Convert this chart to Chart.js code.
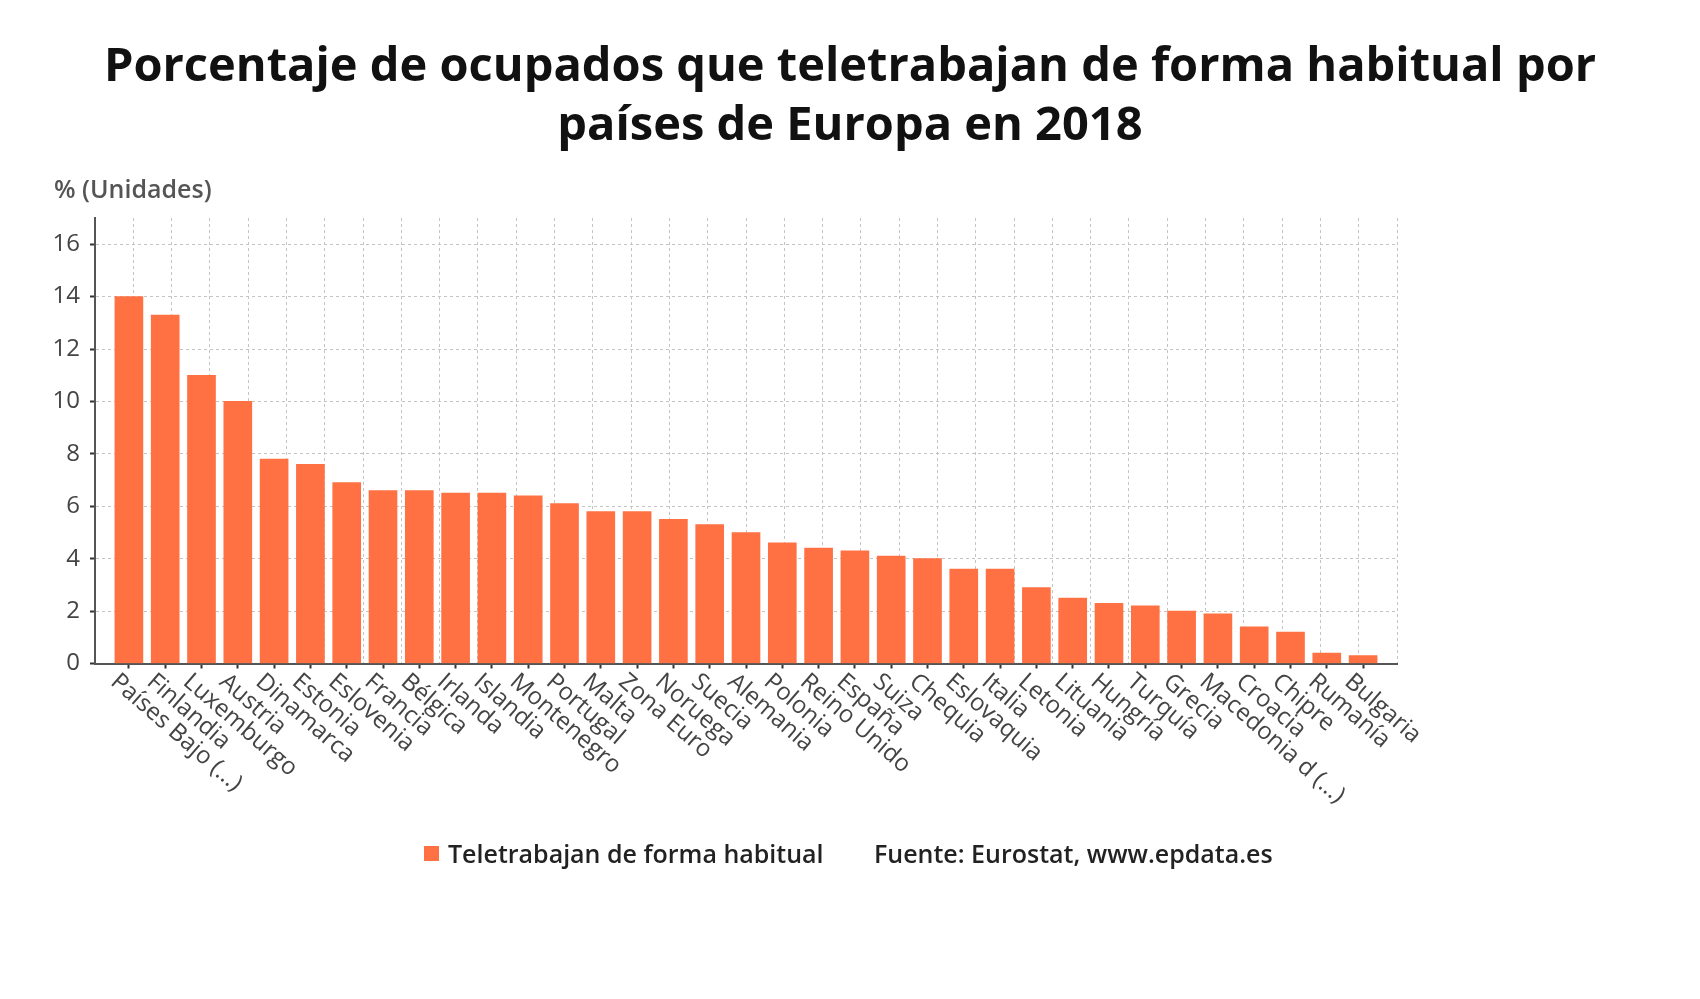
<!DOCTYPE html>
<html><head><meta charset="utf-8">
<script src="https://cdn.jsdelivr.net/npm/chart.js@4.4.1/dist/chart.umd.min.js"></script>
<style>
html,body{margin:0;padding:0;background:#fff;width:1700px;height:999px;overflow:hidden;font-family:"Open Sans",sans-serif}
#wrap{position:relative;width:1700px;height:999px}
canvas{position:absolute;left:0;top:0}
#title{position:absolute;left:0;top:34px;width:1700px;text-align:center;font-weight:700;font-size:47px;line-height:58.6px;color:#111}
#unit{position:absolute;left:54px;top:173px;font-size:25px;font-weight:600;color:#555;line-height:30px}
.lg{position:absolute;top:838px;font-size:25px;font-weight:600;color:#222;line-height:30px;white-space:nowrap}
#sq{position:absolute;left:424px;top:846px;width:15px;height:15px;background:#ff7043}
</style></head>
<body><div id="wrap">
<canvas id="c" width="1700" height="999"></canvas>
<div id="title">Porcentaje de ocupados que teletrabajan de forma habitual por<br>países de Europa en 2018</div>
<div id="unit">% (Unidades)</div>
<div id="sq"></div>
<div class="lg" id="lgText" style="left:448px"></div>
<div class="lg" id="src" style="left:874px">Fuente: Eurostat, www.epdata.es</div>
</div>
<script>
const seriesLabel = "Teletrabajan de forma habitual";
const categories = ["Países Bajo (...)","Finlandia","Luxemburgo","Austria","Dinamarca","Estonia","Eslovenia","Francia","Bélgica","Irlanda","Islandia","Montenegro","Portugal","Malta","Zona Euro","Noruega","Suecia","Alemania","Polonia","Reino Unido","España","Suiza","Chequia","Eslovaquia","Italia","Letonia","Lituania","Hungría","Turquía","Grecia","Macedonia d (...)","Croacia","Chipre","Rumanía","Bulgaria"];
const values = [14.0,13.3,11.0,10.0,7.8,7.6,6.9,6.6,6.6,6.5,6.5,6.4,6.1,5.8,5.8,5.5,5.3,5.0,4.6,4.4,4.3,4.1,4.0,3.6,3.6,2.9,2.5,2.3,2.2,2.0,1.9,1.4,1.2,0.4,0.3];
const yMin = 0, yMax = 17, yStep = 2;

document.getElementById('lgText').textContent = seriesLabel;

const xLabelPlugin = {
  id: 'xlabels',
  afterDraw(chart) {
    const {ctx, scales: {x, y}} = chart;
    ctx.save();
    ctx.font = '24px "Open Sans"';
    ctx.fillStyle = '#444';
    ctx.textAlign = 'left';
    ctx.textBaseline = 'middle';
    const py = y.getPixelForValue(0);
    const ang = 41 * Math.PI / 180;
    categories.forEach((c, i) => {
      const px = x.getPixelForValue(i);
      ctx.save();
      ctx.translate(px - 15, py + 15);
      ctx.rotate(ang);
      ctx.fillText(c, 0, 0);
      ctx.restore();
    });
    ctx.restore();
  }
};

new Chart(document.getElementById('c'), {
  type: 'bar',
  data: {
    datasets: [{
      label: seriesLabel,
      data: values.map((v, i) => ({x: i, y: v})),
      backgroundColor: '#ff7043',
      barThickness: 28
    }]
  },
  options: {
    responsive: false,
    animation: false,
    devicePixelRatio: 1,
    layout: {padding: {left: 0, top: 218, right: 303, bottom: 0}},
    plugins: {legend: {display: false}, tooltip: {enabled: false}},
    scales: {
      x: {
        type: 'linear', position: 'bottom', min: -0.934, max: 34.934, offset: false,
        ticks: {display: false, stepSize: 1, includeBounds: false},
        grid: {offset: false, drawOnChartArea: false, drawTicks: true, tickLength: 5, tickColor: '#333', tickWidth: 2},
        border: {display: true, color: '#555', width: 2},
        afterFit: s => { s.height = 999 - 663.5; }
      },
      xg: {
        type: 'linear', position: 'top', min: 0, max: 34, offset: false,
        ticks: {display: false, stepSize: 1},
        grid: {offset: false, color: '#c4c4c4', lineWidth: 1, drawTicks: false},
        border: {display: false, dash: [3, 3]},
        afterFit: s => { s.height = 0; }
      },
      y: {
        min: yMin, max: yMax,
        ticks: {stepSize: yStep, includeBounds: false, color: '#444', font: {family: 'Open Sans', size: 24}, padding: 10},
        grid: {color: '#c4c4c4', tickColor: '#333', tickLength: 5, tickWidth: 2},
        border: {color: '#555', width: 2, dash: [3, 3]},
        afterFit: s => { s.width = 95; }
      }
    }
  },
  plugins: [xLabelPlugin]
});
</script>
</body></html>
